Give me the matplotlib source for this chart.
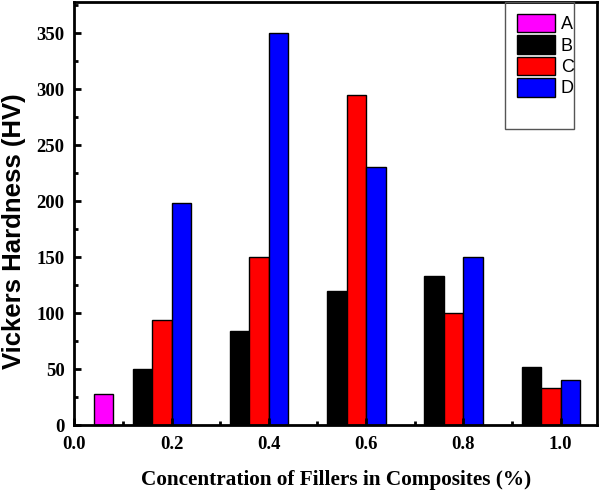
import matplotlib
matplotlib.use("Agg")
import matplotlib.pyplot as plt
from matplotlib.ticker import MultipleLocator
from matplotlib.patches import Rectangle

# 数据
concentrations = [0.2, 0.4, 0.6, 0.8, 1.0]
series_a_x = [0.06]
series_a = [28]
series_b = [50, 84.5, 119.5, 133.5, 52]
series_c = [94, 150, 294.5, 100, 33]
series_d = [198.5, 350, 230.5, 150, 40]

colors = {"A": "#ff00ff", "B": "#000000", "C": "#ff0000", "D": "#0000ff"}
width = 0.04

fig = plt.figure(figsize=(6.0, 4.91), dpi=100)
ax = fig.add_axes([0.124, 0.134, 0.871, 0.862])

ax.bar(series_a_x, series_a, width, color=colors["A"], edgecolor="black", linewidth=1, label="A")
ax.bar([c - 0.06 for c in concentrations], series_b, width, color=colors["B"], edgecolor="black", linewidth=1, label="B")
ax.bar([c - 0.02 for c in concentrations], series_c, width, color=colors["C"], edgecolor="black", linewidth=1, label="C")
ax.bar([c + 0.02 for c in concentrations], series_d, width, color=colors["D"], edgecolor="black", linewidth=1, label="D")

ax.set_xlim(0, 1.075)
ax.set_ylim(0, 378)
ax.xaxis.set_major_locator(MultipleLocator(0.2))
ax.xaxis.set_minor_locator(MultipleLocator(0.1))
ax.yaxis.set_major_locator(MultipleLocator(50))
ax.yaxis.set_minor_locator(MultipleLocator(25))
ax.set_xticks([0.0, 0.2, 0.4, 0.6, 0.8, 1.0])
ax.set_xticklabels(["0.0", "0.2", "0.4", "0.6", "0.8", "1.0"])

for s in ax.spines.values():
    s.set_linewidth(2)
ax.tick_params(which="both", direction="in", top=False, right=False, width=2)
ax.tick_params(which="major", length=5)
ax.tick_params(which="minor", length=3)
ax.tick_params(axis="x", pad=8)
ax.tick_params(axis="y", pad=7)

for lab in ax.get_xticklabels() + ax.get_yticklabels():
    lab.set_fontfamily("Liberation Serif")
    lab.set_fontweight("bold")
    lab.set_fontsize(13.5)

ax.set_xlabel("Concentration of Fillers in Composites (%)", fontfamily="Liberation Serif",
              fontweight="bold", fontsize=15.3, labelpad=12)
ax.set_ylabel("Vickers Hardness (HV)", fontfamily="Liberation Sans",
              fontweight="bold", fontsize=18.5)
ax.yaxis.set_label_coords(-0.093, 0.459)

# 图例
leg = ax.legend(loc="upper left", bbox_to_anchor=(0.847, 0.972), frameon=False,
                prop={"family": "Liberation Sans", "size": 13},
                handlelength=2.1, handleheight=1.19, handletextpad=0.33, labelspacing=0.12,
                borderaxespad=0, borderpad=0)
for h in leg.legend_handles:
    h.set_edgecolor("black")
    h.set_linewidth(1)
ax.add_patch(Rectangle((0.824, 0.70), 0.1325, 0.30, transform=ax.transAxes,
                       fill=False, edgecolor="#555555", linewidth=1, zorder=5))

fig.savefig("out.png", dpi=100)
